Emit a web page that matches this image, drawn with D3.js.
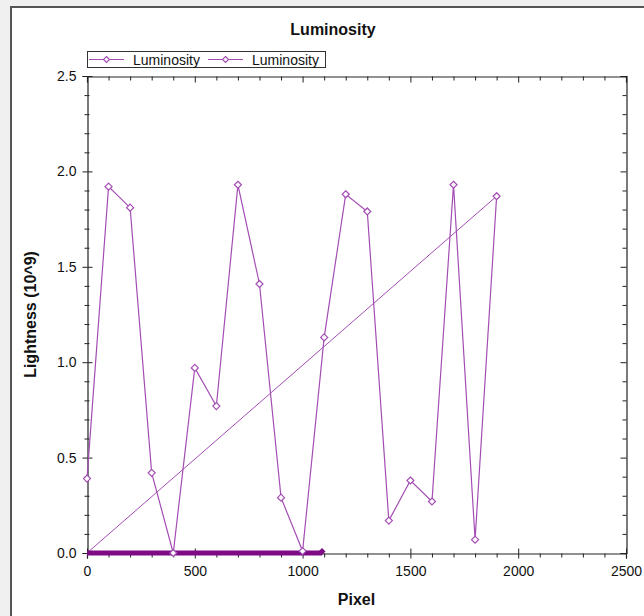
<!DOCTYPE html>
<html>
<head>
<meta charset="utf-8">
<script src="https://d3js.org/d3.v7.min.js"></script>
<style>
    body { margin: 0; background: #f0f0f0; }
    text { font-family: Arial, "Liberation Sans", sans-serif; }
    .axis path, .axis line { stroke: #222; }
    .axis text { font-size: 14px; fill: #111; }
</style>
</head>
<body>
<div id="chart"></div>
<script>
    // data
    var title = "Luminosity";
    var xLabel = "Pixel";
    var yLabel = "Lightness (10^9)";
    var legendNames = ["Luminosity", "Luminosity"];

    var pixel = [0, 100, 200, 300, 400, 500, 600, 700, 800, 900, 1000,
                 1100, 1200, 1300, 1400, 1500, 1600, 1700, 1800, 1900];
    var lightness = [0.39, 1.92, 1.81, 0.42, 0.0, 0.97, 0.77, 1.93, 1.41, 0.29, 0.01,
                     1.13, 1.88, 1.79, 0.17, 0.38, 0.27, 1.93, 0.07, 1.87];

    // second series: back from the last point to the origin, then a dense run at zero
    var pixel2 = [1900, 0, 100, 200, 300, 400, 500, 600, 700, 800, 900, 1000, 1090];
    var lightness2 = [1.87, 0, 0, 0, 0, 0, 0, 0, 0, 0, 0, 0, 0];

    var xTicks = [0, 500, 1000, 1500, 2000, 2500];
    var yTicks = [0.0, 0.5, 1.0, 1.5, 2.0, 2.5];

    var W = 644, H = 616;
    var margin = { top: 76, right: 18, bottom: 63, left: 87 };
    var lineColor = "#a34db3";
    var bandColor = "#7e0a86";

    var svg = d3.select("#chart").append("svg")
        .attr("width", W).attr("height", H);

    // outer frame
    svg.append("rect").attr("x", 11).attr("y", 7).attr("width", W).attr("height", H)
        .attr("fill", "#fff").attr("stroke", "#555").attr("stroke-width", 2);

    var x = d3.scaleLinear().domain([0, 2500]).range([margin.left, W - margin.right]);
    var y = d3.scaleLinear().domain([0, 2.5]).range([H - margin.bottom, margin.top]);

    var x0 = margin.left, x1 = W - margin.right, y0 = H - margin.bottom, y1 = margin.top;

    var xMinor = d3.range(0, 2501, 100).filter(function (d) { return d % 500 != 0; });
    var yMinor = d3.range(0, 26, 1).map(function (d) { return d / 10; }).filter(function (d) { return Math.round(d * 10) % 5 != 0; });

    // bottom axis
    svg.append("g").attr("class", "axis")
        .attr("transform", "translate(0," + (y0 + 0.5) + ")")
        .call(d3.axisBottom(x).tickValues(xTicks).tickSize(5).tickPadding(8).tickFormat(d3.format("d")));
    svg.append("g").attr("class", "axis")
        .attr("transform", "translate(0," + (y0 + 0.5) + ")")
        .call(d3.axisTop(x).tickValues(xTicks).tickSize(5).tickFormat(""))
        .select(".domain").remove();
    svg.append("g").attr("class", "axis")
        .attr("transform", "translate(0," + (y0 + 0.5) + ")")
        .call(d3.axisBottom(x).tickValues(xMinor).tickSize(4).tickFormat(""))
        .select(".domain").remove();

    // top axis, ticks inward
    svg.append("g").attr("class", "axis")
        .attr("transform", "translate(0," + (y1 + 0.5) + ")")
        .call(d3.axisBottom(x).tickValues(xTicks).tickSize(6).tickFormat(""));
    svg.append("g").attr("class", "axis")
        .attr("transform", "translate(0," + (y1 + 0.5) + ")")
        .call(d3.axisBottom(x).tickValues(xMinor).tickSize(4).tickFormat(""))
        .select(".domain").remove();

    // left axis
    svg.append("g").attr("class", "axis")
        .attr("transform", "translate(" + (x0 + 0.5) + ",0)")
        .call(d3.axisLeft(y).tickValues(yTicks).tickSize(5).tickPadding(6).tickFormat(d3.format(".1f")));
    svg.append("g").attr("class", "axis")
        .attr("transform", "translate(" + (x0 + 0.5) + ",0)")
        .call(d3.axisRight(y).tickValues(yTicks).tickSize(5).tickFormat(""))
        .select(".domain").remove();
    svg.append("g").attr("class", "axis")
        .attr("transform", "translate(" + (x0 + 0.5) + ",0)")
        .call(d3.axisLeft(y).tickValues(yMinor).tickSize(3).tickFormat(""))
        .select(".domain").remove();
    svg.append("g").attr("class", "axis")
        .attr("transform", "translate(" + (x0 + 0.5) + ",0)")
        .call(d3.axisRight(y).tickValues(yMinor).tickSize(2).tickFormat(""))
        .select(".domain").remove();

    // right axis, ticks inward
    svg.append("g").attr("class", "axis")
        .attr("transform", "translate(" + (x1 + 0.5) + ",0)")
        .call(d3.axisLeft(y).tickValues(yTicks).tickSize(6).tickFormat(""));
    svg.append("g").attr("class", "axis")
        .attr("transform", "translate(" + (x1 + 0.5) + ",0)")
        .call(d3.axisLeft(y).tickValues(yMinor).tickSize(4).tickFormat(""))
        .select(".domain").remove();

    svg.selectAll(".axis .domain").attr("stroke", "#333").attr("stroke-width", 1.2);

    // diamond marker
    function diamond(cx, cy, r) {
        return "M" + cx + "," + (cy - r) + "L" + (cx + r) + "," + cy + "L" + cx + "," + (cy + r) + "L" + (cx - r) + "," + cy + "Z";
    }

    var pts = pixel.map(function (d, i) { return [d, lightness[i]]; });
    var pts2 = pixel2.map(function (d, i) { return [d, lightness2[i]]; });
    var line = d3.line().x(function (d) { return x(d[0]); }).y(function (d) { return y(d[1]); });

    // series 2: diagonal back to origin, then thick run along zero
    svg.append("path").datum(pts2.slice(0, 2)).attr("d", line)
        .attr("fill", "none").attr("stroke", lineColor).attr("stroke-width", 1);
    svg.append("path").datum(pts2.slice(1)).attr("d", line)
        .attr("fill", "none").attr("stroke", bandColor).attr("stroke-width", 5);
    var last2 = pts2[pts2.length - 1];
    svg.append("path").attr("d", diamond(x(last2[0]), y(last2[1]) - 1.5, 3.5)).attr("fill", bandColor);

    // series 1
    svg.append("path").datum(pts).attr("d", line)
        .attr("fill", "none").attr("stroke", lineColor).attr("stroke-width", 1.2);
    svg.selectAll(".mk").data(pts).enter().append("path")
        .attr("class", "mk")
        .attr("d", function (d) { return diamond(x(d[0]), y(d[1]), 3.5); })
        .attr("fill", "#fff").attr("stroke", lineColor).attr("stroke-width", 1.2);

    // legend
    var lg = svg.append("g");
    lg.append("rect").attr("x", 87.5).attr("y", 51.5).attr("width", 238).attr("height", 16)
        .attr("fill", "#fff").attr("stroke", "#333").attr("stroke-width", 1);
    var lx = [89, 208];
    legendNames.forEach(function (name, i) {
        lg.append("line").attr("x1", lx[i]).attr("x2", lx[i] + 35).attr("y1", 59.5).attr("y2", 59.5)
            .attr("stroke", lineColor).attr("stroke-width", 1.2);
        lg.append("path").attr("d", diamond(lx[i] + 17.5, 59.5, 3)).attr("fill", "#fff")
            .attr("stroke", lineColor).attr("stroke-width", 1.2);
        lg.append("text").attr("x", lx[i] + 44).attr("y", 64.5).attr("font-size", 14)
            .attr("fill", "#111").text(name);
    });

    // titles
    svg.append("text").attr("x", 333).attr("y", 35).attr("text-anchor", "middle")
        .attr("font-size", 16).attr("font-weight", "bold").attr("fill", "#111").text(title);
    svg.append("text").attr("x", (x0 + x1) / 2).attr("y", 605).attr("text-anchor", "middle")
        .attr("font-size", 16).attr("font-weight", "bold").attr("fill", "#111").text(xLabel);
    svg.append("text").attr("transform", "translate(36," + ((y0 + y1) / 2) + ") rotate(-90)")
        .attr("text-anchor", "middle")
        .attr("font-size", 16).attr("font-weight", "bold").attr("fill", "#111").text(yLabel);
</script>
</body>
</html>
